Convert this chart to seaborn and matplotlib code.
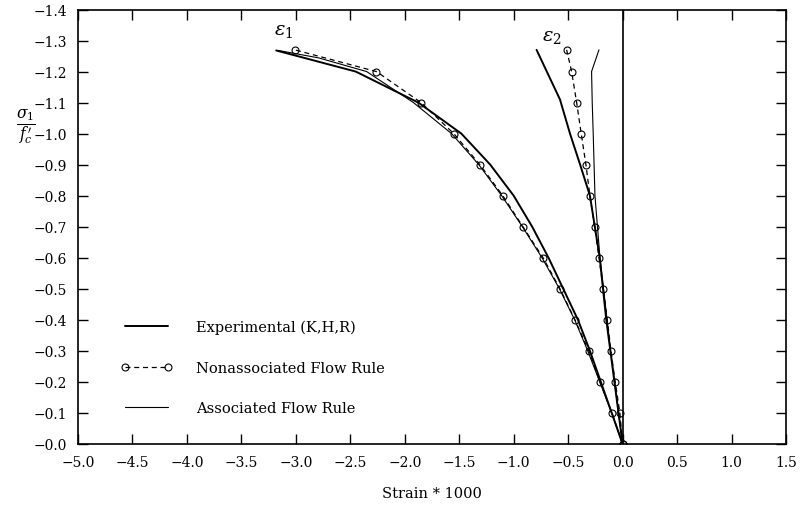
import matplotlib
matplotlib.use("Agg")
import matplotlib.pyplot as plt
import seaborn as sns
import numpy as np
import pandas as pd
from matplotlib.ticker import FuncFormatter

# ---------------- data ----------------
stress_levels = [0.0, -0.1, -0.2, -0.3, -0.4, -0.5, -0.6, -0.7, -0.8, -0.9, -1.0, -1.1, -1.2, -1.27]

nonassoc_eps1 = [0.0, -0.098, -0.208, -0.31, -0.437, -0.575, -0.73, -0.915, -1.10, -1.31, -1.55, -1.85, -2.26, -3.01]
nonassoc_eps2 = [0.0, -0.025, -0.068, -0.107, -0.141, -0.178, -0.217, -0.257, -0.30, -0.337, -0.38, -0.422, -0.468, -0.514]

exp_eps1_y = [0.0, -0.1, -0.2, -0.3, -0.4, -0.5, -0.6, -0.7, -0.8, -0.9, -1.0, -1.1, -1.2, -1.268]
exp_eps1_x = [0.0, -0.1, -0.2, -0.3, -0.41, -0.545, -0.68, -0.83, -1.0, -1.215, -1.48, -1.875, -2.45, -3.18]

exp_eps2_y = [0.0, -0.2, -0.4, -0.6, -0.7, -0.8, -0.9, -1.0, -1.11, -1.27]
exp_eps2_x = [0.0, -0.075, -0.15, -0.21, -0.255, -0.30, -0.39, -0.483, -0.575, -0.79]

assoc_eps1_y = [0.0, -0.1, -0.2, -0.3, -0.4, -0.5, -0.6, -0.7, -0.8, -0.9, -1.0, -1.1, -1.2, -1.244, -1.268]
assoc_eps1_x = [0.0, -0.1, -0.21, -0.32, -0.44, -0.58, -0.74, -0.92, -1.11, -1.32, -1.57, -1.92, -2.35, -2.79, -3.16]

assoc_eps2_y = [0.0, -0.3, -0.6, -0.8, -1.0, -1.1, -1.2, -1.27]
assoc_eps2_x = [0.0, -0.11, -0.208, -0.254, -0.27, -0.279, -0.285, -0.217]

x_ticks = [-5.0, -4.5, -4.0, -3.5, -3.0, -2.5, -2.0, -1.5, -1.0, -0.5, 0.0, 0.5, 1.0, 1.5]
y_ticks = [0.0, -0.1, -0.2, -0.3, -0.4, -0.5, -0.6, -0.7, -0.8, -0.9, -1.0, -1.1, -1.2, -1.3, -1.4]

legend_labels = ["Experimental (K,H,R)", "Nonassociated Flow Rule", "Associated Flow Rule"]

# ---------------- style ----------------
sns.set_style("ticks")
plt.rcParams["font.family"] = ["DejaVu Serif"]
plt.rcParams["mathtext.fontset"] = "dejavuserif"
plt.rcParams["text.color"] = "black"
plt.rcParams["axes.labelcolor"] = "black"
plt.rcParams["xtick.color"] = "black"
plt.rcParams["ytick.color"] = "black"

fig = plt.figure(figsize=(8.04, 5.06), dpi=100)
ax = fig.add_axes([78 / 804, 1 - 445 / 506, 708 / 804, 434.5 / 506])

# experimental
sns.lineplot(x=exp_eps1_x, y=exp_eps1_y, sort=False, estimator=None, ax=ax,
             color="black", linewidth=1.4, label=legend_labels[0])
sns.lineplot(x=exp_eps2_x, y=exp_eps2_y, sort=False, estimator=None, ax=ax,
             color="black", linewidth=1.4)
# nonassociated
sns.lineplot(x=nonassoc_eps1, y=stress_levels, sort=False, estimator=None, ax=ax,
             color="black", linewidth=0.9, linestyle=(0, (4, 3)), marker="o",
             markersize=5, markerfacecolor="none", markeredgecolor="black",
             markeredgewidth=0.8, label=legend_labels[1])
sns.lineplot(x=nonassoc_eps2, y=stress_levels, sort=False, estimator=None, ax=ax,
             color="black", linewidth=0.9, linestyle=(0, (4, 3)), marker="o",
             markersize=5, markerfacecolor="none", markeredgecolor="black",
             markeredgewidth=0.8)
# associated
sns.lineplot(x=assoc_eps1_x, y=assoc_eps1_y, sort=False, estimator=None, ax=ax,
             color="black", linewidth=0.8, label=legend_labels[2])
sns.lineplot(x=assoc_eps2_x, y=assoc_eps2_y, sort=False, estimator=None, ax=ax,
             color="black", linewidth=0.8)

# vertical zero line
ax.axvline(0.0, color="black", linewidth=1.2)

ax.set_xlim(-5.0, 1.5)
ax.set_ylim(0.0, -1.4)
ax.set_xticks(x_ticks)
ax.set_yticks(y_ticks)
ax.xaxis.set_major_formatter(FuncFormatter(lambda v, p: f"{v:.1f}".replace("-", "\u2212")))
ax.yaxis.set_major_formatter(FuncFormatter(lambda v, p: f"\u2212{abs(v):.1f}"))
ax.tick_params(direction="in", length=7, width=1.0, top=True, right=True,
               labelsize=10, pad=8, colors="black")
for s in ax.spines.values():
    s.set_linewidth(1.2)
    s.set_color("black")

ax.set_xlabel("Strain * 1000", fontsize=10.5, labelpad=12)
ax.set_ylabel("")
fig.text(26 / 804, 1 - 127 / 506, r"$\frac{\sigma_1}{f^{\,\prime}_c}$", fontsize=16,
         ha="center", va="center")

ax.text(-3.2, -1.335, r"$\varepsilon_1$", fontsize=14, ha="left", va="center")
ax.text(-0.74, -1.315, r"$\varepsilon_2$", fontsize=14, ha="left", va="center")

leg = ax.legend(loc="lower left", bbox_to_anchor=(0.041, 0.036), frameon=False,
                handlelength=3.6, labelspacing=1.82, handletextpad=1.6,
                numpoints=2, fontsize=10.5)
for t in leg.get_texts():
    t.set_color("black")

fig.savefig("out.png", dpi=100, facecolor="white")
